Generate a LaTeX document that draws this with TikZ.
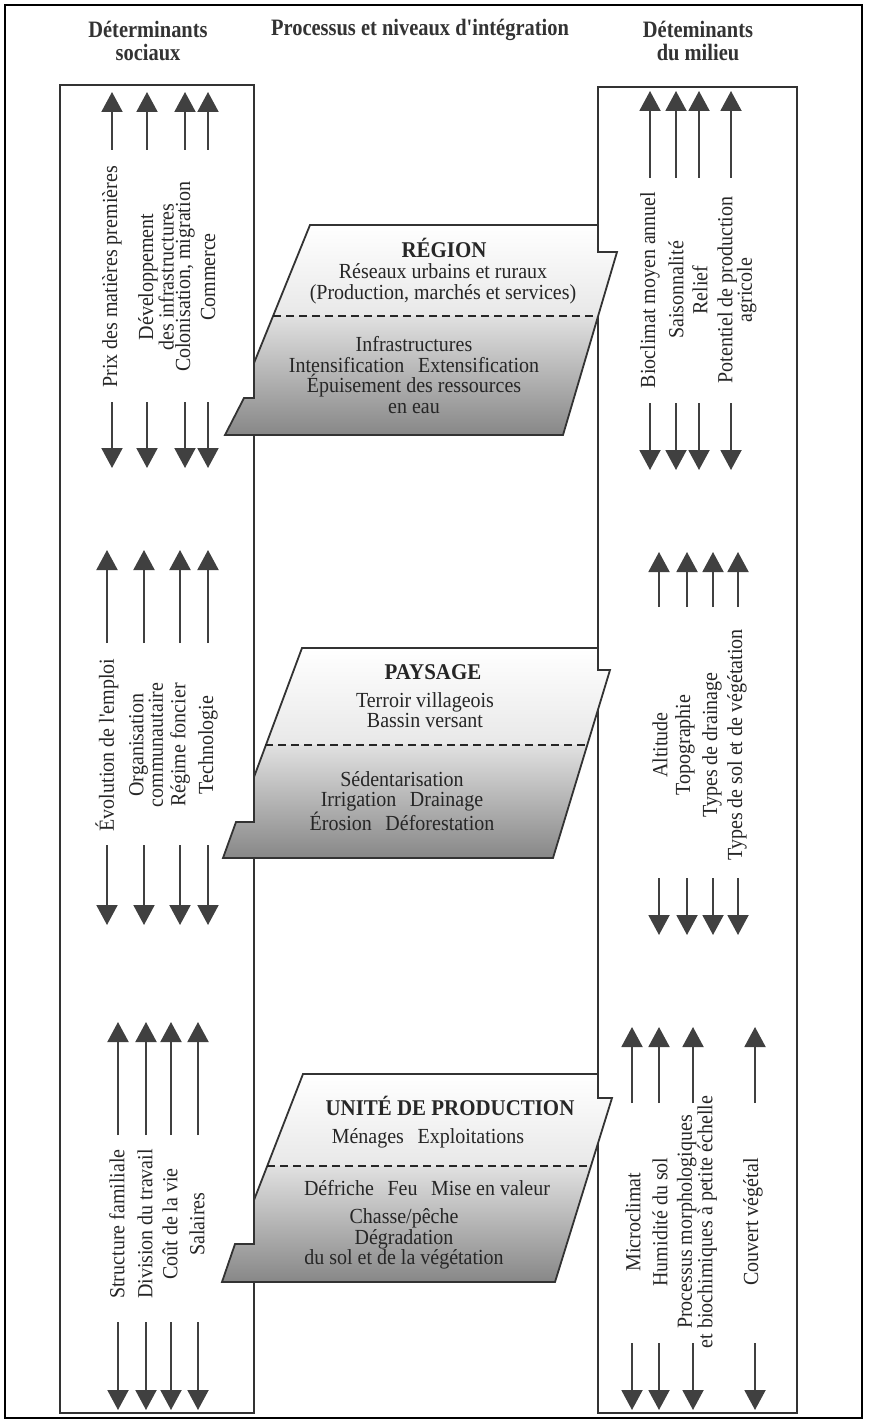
\documentclass[tikz,border=0pt]{standalone}
\usepackage{fontspec}
\setmainfont{Liberation Serif}
\newfontfamily\bodyfont{Liberation Serif}[FakeStretch=0.93]
\newfontfamily\headfont{Liberation Serif}[FakeStretch=0.87]
\usetikzlibrary{arrows.meta}
\begin{document}
\begin{tikzpicture}[x=1pt,y=-1pt,
  frame/.style={draw=black, line width=1.6pt},
  col/.style={draw=black!80, line width=1.8pt},
  arr/.style={draw=black!75, line width=2pt, -{Triangle[length=20pt,width=21pt]}},
  outl/.style={draw=black!80, line width=1.8pt, line join=miter},
  sep/.style={draw=black!85, line width=2pt, dash pattern=on 8pt off 5pt},
  head/.style={font=\headfont\fontsize{23.5}{23}\selectfont\bfseries, align=center, inner sep=0pt, text=black!80},
  ttl/.style={font=\bodyfont\fontsize{22.5}{23}\selectfont\bfseries, inner sep=0pt, text=black!85},
  txt/.style={font=\bodyfont\fontsize{21.5}{20.5}\selectfont, align=center, inner sep=0pt, text=black!85},
  rot/.style={txt, rotate=90, font=\bodyfont\fontsize{21.5}{19.5}\selectfont},
]
\useasboundingbox (0,0) rectangle (868,1423);
\fill[white] (0,0) rectangle (868,1423);
\draw[frame] (5,5) rectangle (862,1418);

% column boxes
\draw[col] (60,85) rectangle (254,1413);
\draw[col] (598,87) rectangle (797,1413);

% headings
\node[head] (hs) at (148,41) {Déterminants\\sociaux};
\node[head] (hp) at (420,30) {Processus et niveaux d'intégration};
\node[head] (hm) at (698,41) {Déteminants\\du milieu};

% ---------- level 1 : REGION
\begin{scope}
\clip (310,225)--(598,225)--(598,252)--(617,252)--(563,435)--(225,435)--(244,398)--(254,398)--(254,363)--cycle;
\shade[top color=white, bottom color=black!9] (215,225) rectangle (625,316);
\shade[top color=black!12, bottom color=black!47] (215,316) rectangle (625,435);
\end{scope}
\draw[outl] (310,225)--(598,225)--(598,252)--(617,252)--(563,435)--(225,435)--(244,398)--(254,398)--(254,363)--cycle;
\draw[sep] (273,316) -- (598,316);
\node[ttl] (t1) at (444,248) {RÉGION};
\node[txt] (t1a) at (443,284) {Réseaux urbains et ruraux\\(Production, marchés et services)};
\node[txt] (t1b) at (414,375) {Infrastructures\\Intensification\hspace{.4em} Extensification\\Épuisement des ressources\\en eau};

% ---------- level 2 : PAYSAGE
\begin{scope}
\clip (302,648)--(598,648)--(598,670)--(610,670)--(553,858)--(223,858)--(236,822)--(254,822)--(254,777)--cycle;
\shade[top color=white, bottom color=black!9] (215,648) rectangle (625,745);
\shade[top color=black!12, bottom color=black!47] (215,745) rectangle (625,858);
\end{scope}
\draw[outl] (302,648)--(598,648)--(598,670)--(610,670)--(553,858)--(223,858)--(236,822)--(254,822)--(254,777)--cycle;
\draw[sep] (265,745) -- (587,745);
\node[ttl] (t2) at (433,672) {PAYSAGE};
\node[txt] (t2a) at (425,710) {Terroir villageois\\Bassin versant};
\node[txt] (t2b) at (402,801) {Sédentarisation\\Irrigation\hspace{.4em} Drainage\\Érosion\hspace{.4em} Déforestation};

% ---------- level 3 : UNITE DE PRODUCTION
\begin{scope}
\clip (303,1074)--(598,1074)--(598,1098)--(612,1098)--(555,1282)--(222,1282)--(235,1244)--(254,1244)--(254,1200)--cycle;
\shade[top color=white, bottom color=black!9] (215,1074) rectangle (625,1166);
\shade[top color=black!12, bottom color=black!47] (215,1166) rectangle (625,1282);
\end{scope}
\draw[outl] (303,1074)--(598,1074)--(598,1098)--(612,1098)--(555,1282)--(222,1282)--(235,1244)--(254,1244)--(254,1200)--cycle;
\draw[sep] (267,1166) -- (591,1166);
\node[ttl] (t3) at (450,1106) {UNITÉ DE PRODUCTION};
\node[txt] (t3a) at (428,1138) {Ménages\hspace{.4em} Exploitations};
\node[txt] (t3b) at (427,1188) {Défriche\hspace{.4em} Feu\hspace{.4em} Mise en valeur};
\node[txt] (t3c) at (404,1239) {Chasse/pêche\\Dégradation\\du sol et de la végétation};

% ---------- left column, group 1
\foreach \x in {112,147,185,208} {\draw[arr] (\x,150) -- (\x,92); \draw[arr] (\x,402) -- (\x,468);}
\node[rot] (l11) at (112,277) {Prix des matières premières};
\node[rot] (l12) at (156,277) {Développement\\des infrastructures};
\node[rot] (l13) at (185,277) {Colonisation, migration};
\node[rot] (l14) at (208,277) {Commerce};

% ---------- right column, group 1
\foreach \x in {650,676,699,731} {\draw[arr] (\x,178) -- (\x,91); \draw[arr] (\x,403) -- (\x,470);}
\node[rot] (r11) at (650,290) {Bioclimat moyen annuel};
\node[rot] (r12) at (676,290) {Saisonnalité};
\node[rot] (r13) at (700,290) {Relief};
\node[rot] (r14) at (737,290) {Potentiel de production\\agricole};

% ---------- left column, group 2
\foreach \x in {107,144,180,208} {\draw[arr] (\x,643) -- (\x,550); \draw[arr] (\x,845) -- (\x,925);}
\node[rot] (l21) at (107,745) {Évolution de l'emploi};
\node[rot] (l22) at (146,745) {Organisation\\communautaire};
\node[rot] (l23) at (180,745) {Régime foncier};
\node[rot] (l24) at (208,745) {Technologie};

% ---------- right column, group 2
\foreach \x in {659,687,713,738} {\draw[arr] (\x,607) -- (\x,552); \draw[arr] (\x,878) -- (\x,935);}
\node[rot] (r21) at (660,745) {Altitude};
\node[rot] (r22) at (685,745) {Topographie};
\node[rot] (r23) at (712,745) {Types de drainage};
\node[rot] (r24) at (737,745) {Types de sol et de végétation};

% ---------- left column, group 3
\foreach \x in {118,146,171,198} {\draw[arr] (\x,1135) -- (\x,1022); \draw[arr] (\x,1322) -- (\x,1410);}
\node[rot] (l31) at (117,1224) {Structure familiale};
\node[rot] (l32) at (145,1224) {Division du travail};
\node[rot] (l33) at (170,1224) {Coût de la vie};
\node[rot] (l34) at (197,1224) {Salaires};

% ---------- right column, group 3
\foreach \x in {632,659,693,755} {\draw[arr] (\x,1103) -- (\x,1027); \draw[arr] (\x,1343) -- (\x,1410);}
\node[rot] (r31) at (633,1222) {Microclimat};
\node[rot] (r32) at (660,1222) {Humidité du sol};
\node[rot] (r33) at (697,1222) {Processus morphologiques\\et biochimiques à petite échelle};
\node[rot] (r34) at (753,1222) {Couvert végétal};
\end{tikzpicture}
\end{document}
